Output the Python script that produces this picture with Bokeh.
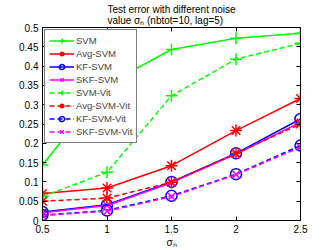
from bokeh.plotting import figure
from bokeh.models import (Range1d, LinearAxis, FixedTicker, CustomJSTickFormatter,
                          Legend, LegendItem, Title)
from bokeh.embed import file_html
from bokeh.resources import INLINE

x = [0.5, 1, 1.5, 2, 2.5]
svm = [0.144, 0.353, 0.443, 0.472, 0.485]
avg_svm = [0.070, 0.084, 0.142, 0.233, 0.316]
kf_svm = [0.022, 0.041, 0.100, 0.174, 0.263]
skf_svm = [0.020, 0.039, 0.098, 0.172, 0.255]
svm_vit = [0.062, 0.125, 0.323, 0.418, 0.459]
avg_svm_vit = [0.050, 0.058, 0.099, 0.174, 0.250]
kf_svm_vit = [0.014, 0.026, 0.064, 0.120, 0.194]
skf_svm_vit = [0.013, 0.024, 0.062, 0.119, 0.190]

names = ["SVM", "Avg-SVM", "KF-SVM", "SKF-SVM",
         "SVM-Vit", "Avg-SVM-Vit", "KF-SVM-Vit", "SKF-SVM-Vit"]
series = [svm, avg_svm, kf_svm, skf_svm, svm_vit, avg_svm_vit, kf_svm_vit, skf_svm_vit]
colors = ["#00ff00", "#ff0000", "#0000ff", "#ff00ff"] * 2
markers = ["cross", "asterisk", "circle", "x"] * 2
msizes = [12, 12, 11, 10] * 2
dashes = ["solid"] * 4 + ["5 3"] * 4

xticks = [0.5, 1, 1.5, 2, 2.5]
yticks = [0, 0.05, 0.1, 0.15, 0.2, 0.25, 0.3, 0.35, 0.4, 0.45, 0.5]
title_lines = "Test error with different noise\nvalue \u03c3\u2099 (nbtot=10, lag=5)"
xlabel = "\u03c3\u2099"

FONT = "Liberation Sans"

p = figure(width=332, height=250, output_backend="svg", toolbar_location=None,
           x_range=Range1d(0.5, 2.5), y_range=Range1d(0, 0.5),
           min_border_left=42, min_border_right=32, min_border_top=0, min_border_bottom=0)
p.xgrid.visible = False
p.ygrid.visible = False
p.outline_line_color = "black"
p.background_fill_color = "white"
p.border_fill_color = "white"

fmt = CustomJSTickFormatter(code="return tick.toString();")
blank = CustomJSTickFormatter(code="return '';")
p.xaxis.ticker = FixedTicker(ticks=xticks)
p.yaxis.ticker = FixedTicker(ticks=yticks)
p.xaxis.formatter = fmt
p.yaxis.formatter = fmt

for ax in [p.xaxis[0], p.yaxis[0]]:
    ax.major_tick_in = 4
    ax.major_tick_out = 0
    ax.minor_tick_line_color = None
    ax.axis_line_color = "black"
    ax.major_tick_line_color = "black"
    ax.major_label_text_font = FONT
    ax.major_label_text_font_size = "10px"
    ax.major_label_text_color = "black"
    ax.major_label_standoff = 4

p.xaxis.axis_label = xlabel
p.xaxis.axis_label_text_font = FONT
p.xaxis.axis_label_text_font_size = "10px"
p.xaxis.axis_label_text_font_style = "normal"
p.xaxis.axis_label_text_color = "black"
p.xaxis.axis_label_standoff = 1

top = LinearAxis(ticker=FixedTicker(ticks=xticks), formatter=blank,
                 major_tick_in=4, major_tick_out=0, minor_tick_line_color=None,
                 axis_line_color="black", major_label_standoff=0,
                 major_label_text_font_size="1px")
right = LinearAxis(ticker=FixedTicker(ticks=yticks), formatter=blank,
                   major_tick_in=4, major_tick_out=0, minor_tick_line_color=None,
                   axis_line_color="black", major_label_standoff=0,
                   major_label_text_font_size="1px")
p.add_layout(top, "above")
p.add_layout(right, "right")

p.add_layout(Title(text=title_lines, align="center", text_font=FONT,
                   text_font_size="10px", text_font_style="normal",
                   text_color="black", standoff=2, text_line_height=1.05), "above")

items = []
for name, ys, c, m, s, d in zip(names, series, colors, markers, msizes, dashes):
    r1 = p.line(x, ys, line_color=c, line_width=1.5, line_dash=d)
    r2 = p.scatter(x, ys, marker=m, size=s, line_color=c, fill_color=None, line_width=1.5)
    items.append(LegendItem(label=name, renderers=[r1, r2]))

legend = Legend(items=items, location="top_left", margin=2,
                padding=4, spacing=0, glyph_width=25, glyph_height=13, label_height=13,
                label_standoff=2, label_text_font=FONT, label_text_font_size="9.5px",
                border_line_color="black", border_line_width=1,
                background_fill_color="white", background_fill_alpha=1)
p.add_layout(legend, "center")

open("out.html", "w").write(file_html(p, INLINE))
